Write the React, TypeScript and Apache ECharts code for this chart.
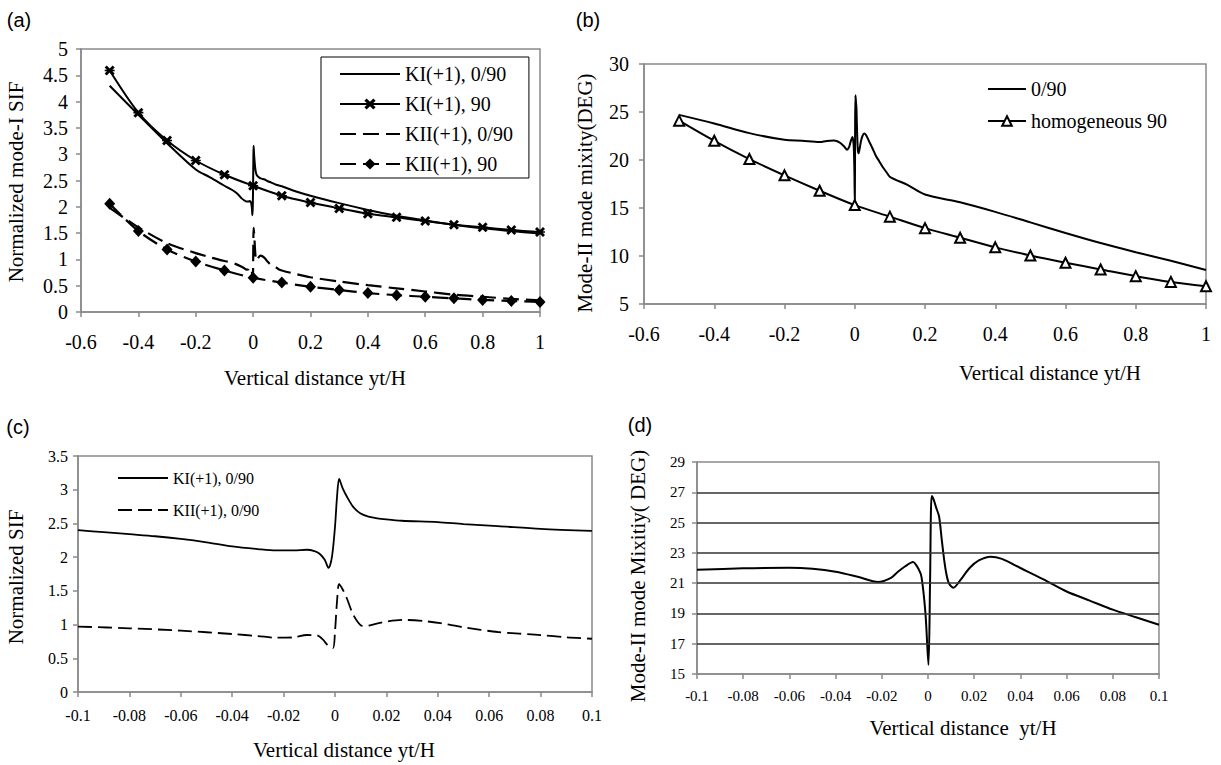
import React, { useEffect, useRef } from 'react';
import * as echarts from 'echarts';

const SERIF = "'Liberation Serif', 'Times New Roman', serif";
const SANS = "'Liberation Sans', Arial, sans-serif";
const GRAY = '#8a8a8a';

// ---------- Panel (a) ----------
const aX90 = [-0.5, -0.4, -0.3, -0.2, -0.1, 0, 0.1, 0.2, 0.3, 0.4, 0.5, 0.6, 0.7, 0.8, 0.9, 1.0];
const aKI90 = [4.59, 3.79, 3.26, 2.88, 2.61, 2.40, 2.21, 2.08, 1.97, 1.87, 1.80, 1.73, 1.66, 1.61, 1.56, 1.52];
const aKII90 = [2.06, 1.54, 1.19, 0.96, 0.79, 0.65, 0.56, 0.48, 0.42, 0.36, 0.32, 0.29, 0.26, 0.23, 0.21, 0.19];
const aLeftX = [-0.5, -0.4, -0.3, -0.2, -0.15];
const aKI090Left = [4.30, 3.75, 3.21, 2.71, 2.56];
const aKII090Left = [1.98, 1.61, 1.31, 1.12, 1.04];
const aRightX = [0.15, 0.2, 0.3, 0.4, 0.5, 0.6, 0.7, 0.8, 0.9, 1.0];
const aKI090Right = [2.29, 2.21, 2.07, 1.94, 1.83, 1.74, 1.66, 1.59, 1.54, 1.49];
const aKII090Right = [0.72, 0.66, 0.58, 0.51, 0.45, 0.39, 0.33, 0.29, 0.25, 0.22];

// ---------- Panel (c) (zoom of the 0/90 curves) ----------
const cKIX = [-0.1, -0.09, -0.08, -0.07, -0.06, -0.05, -0.04, -0.03, -0.023, -0.016, -0.011, -0.008, -0.006, -0.004, -0.0025, -0.0012, 0, 0.0008, 0.0016, 0.003, 0.0046, 0.007, 0.0098, 0.013, 0.0158, 0.02, 0.026, 0.04, 0.05, 0.0634, 0.08, 0.1];
const cKI = [2.40, 2.37, 2.34, 2.31, 2.27, 2.22, 2.16, 2.12, 2.10, 2.10, 2.11, 2.09, 2.05, 1.96, 1.84, 2.0, 2.45, 2.9, 3.16, 3.02, 2.90, 2.75, 2.65, 2.60, 2.58, 2.56, 2.54, 2.52, 2.49, 2.46, 2.42, 2.39];
const cKIIX = [-0.1, -0.08, -0.06, -0.04, -0.03, -0.023, -0.016, -0.011, -0.007, -0.0045, -0.003, -0.0008, 0, 0.0008, 0.0016, 0.003, 0.0046, 0.0068, 0.009, 0.0105, 0.013, 0.018, 0.026, 0.035, 0.041, 0.05, 0.0634, 0.08, 0.09, 0.1];
const cKII = [0.97, 0.945, 0.91, 0.86, 0.83, 0.805, 0.81, 0.845, 0.84, 0.77, 0.70, 0.65, 0.9, 1.35, 1.60, 1.52, 1.39, 1.17, 1.03, 0.98, 0.985, 1.03, 1.07, 1.05, 1.02, 0.96, 0.89, 0.845, 0.81, 0.79];

// ---------- Panel (b) ----------
const bLeftX = [-0.5, -0.4, -0.3, -0.2, -0.15];
const b090Left = [24.7, 23.8, 22.8, 22.1, 22.0];
const bRightX = [0.15, 0.2, 0.3, 0.4, 0.5, 0.6, 0.7, 0.8, 0.9, 1.0];
const b090Right = [17.4, 16.4, 15.6, 14.6, 13.5, 12.4, 11.35, 10.4, 9.5, 8.55];
const bHom90 = [24.1, 22.0, 20.1, 18.4, 16.8, 15.3, 14.1, 12.9, 11.9, 10.9, 10.05, 9.3, 8.6, 7.9, 7.3, 6.85];

// ---------- Panel (d) (zoom of the 0/90 mixity) ----------
const dX = [-0.1, -0.08, -0.06, -0.05, -0.04, -0.03, -0.0216, -0.016, -0.013, -0.01, -0.0065, -0.004, -0.0028, -0.0011, 0.0002, 0.0009, 0.0016, 0.0025, 0.0035, 0.0048, 0.006, 0.0075, 0.009, 0.011, 0.014, 0.018, 0.022, 0.027, 0.032, 0.04, 0.05, 0.06, 0.07, 0.08, 0.09, 0.1];
const dMix = [21.88, 21.98, 22.02, 21.95, 21.75, 21.4, 21.08, 21.35, 21.75, 22.1, 22.4, 21.9, 21.4, 19.0, 15.6, 21.2, 26.75, 26.5, 26.0, 25.4, 23.8, 22.0, 21.0, 20.7, 21.2, 22.0, 22.5, 22.75, 22.6, 22.0, 21.25, 20.45, 19.85, 19.25, 18.75, 18.25];
const dYTicks = [15, 17, 19, 21, 23, 25, 27, 29];

const zip = (xs: number[], ys: number[]) => xs.map((x, i) => [x, ys[i]]);

const grids = [
  { left: 81, top: 49, width: 459, height: 263 },
  { left: 644, top: 64, width: 562, height: 240 },
  { left: 78, top: 456, width: 514, height: 236 },
  { left: 697, top: 462, width: 462, height: 212 },
];

function axisBase(fontSize: number, margin: number) {
  return {
    type: 'value' as const,
    axisLine: { show: true, onZero: false, lineStyle: { color: GRAY, width: 1.5 } },
    axisTick: { show: true, inside: false, length: 5, lineStyle: { color: GRAY, width: 1.5 } },
    axisLabel: { color: '#000', fontFamily: SERIF, fontSize, margin, showMinLabel: true, showMaxLabel: true },
    splitLine: { show: false },
  };
}

function txt(text: string, x: number, y: number, size: number, rotate = false, family = SERIF) {
  return {
    type: 'text',
    x,
    y,
    rotation: rotate ? Math.PI / 2 : 0,
    style: {
      text,
      fill: '#000',
      fontFamily: family,
      fontSize: size,
      align: 'center',
      verticalAlign: 'middle',
      textAlign: 'center',
      textVerticalAlign: 'middle',
    },
  };
}

const noMark = (name: string) => ({ name, itemStyle: { opacity: 0 } });

const xSymbol = 'path://M2,0L5,3L8,0L10,2L7,5L10,8L8,10L5,7L2,10L0,8L3,5L0,2ZM0,4.2L10,4.2L10,5.8L0,5.8Z';

export default function App() {
  const ref = useRef<HTMLDivElement>(null);
  useEffect(() => {
    if (!ref.current) return;
    const chart = echarts.init(ref.current, null, { renderer: 'svg', width: 1221, height: 765 });
    const black = '#000';
    const option: any = {
      animation: false,
      backgroundColor: '#fff',
      grid: grids.map((g) => ({ ...g, show: true, borderColor: GRAY, borderWidth: 1.5, backgroundColor: 'transparent', containLabel: false })),
      xAxis: [
        { ...axisBase(20, 20), gridIndex: 0, min: -0.6, max: 1, interval: 0.2 },
        { ...axisBase(20, 20), gridIndex: 1, min: -0.6, max: 1, interval: 0.2 },
        { ...axisBase(16, 15), gridIndex: 2, min: -0.1, max: 0.1, interval: 0.02 },
        { ...axisBase(15, 14), gridIndex: 3, min: -0.1, max: 0.1, interval: 0.02 },
      ],
      yAxis: [
        { ...axisBase(20, 13), gridIndex: 0, min: 0, max: 5, interval: 0.5 },
        { ...axisBase(20, 15), gridIndex: 1, min: 5, max: 30, interval: 5 },
        { ...axisBase(16, 10), gridIndex: 2, min: 0, max: 3.5, interval: 0.5 },
        (() => {
          const b = axisBase(15, 12);
          return {
            ...b,
            gridIndex: 3,
            min: 15,
            max: 29,
            axisLabel: { ...b.axisLabel, customValues: dYTicks },
            axisTick: { ...b.axisTick, customValues: dYTicks },
          };
        })(),
      ],
      legend: [
        {
          data: [noMark('KI(+1), 0/90'), 'KI(+1), 90', noMark('KII(+1), 0/90'), 'KII(+1), 90'],
          left: 321,
          top: 57,
          orient: 'vertical',
          itemWidth: 60,
          itemHeight: 14,
          itemGap: 10,
          padding: [7, 16, 4, 18],
          borderColor: '#000',
          borderWidth: 1,
          backgroundColor: '#fff',
          selectedMode: false,
          textStyle: { fontFamily: SERIF, fontSize: 20, color: '#000' },
        },
        {
          data: [noMark('0/90'), 'homogeneous 90'],
          left: 987,
          top: 79,
          orient: 'vertical',
          itemWidth: 38,
          itemHeight: 12,
          itemGap: 12,
          padding: 0,
          selectedMode: false,
          textStyle: { fontFamily: SERIF, fontSize: 20, color: '#000' },
        },
        {
          data: [noMark('KI(+1), 0/90 '), noMark('KII(+1), 0/90 ')],
          left: 117,
          top: 470,
          orient: 'vertical',
          itemWidth: 50,
          itemHeight: 12,
          itemGap: 16,
          padding: 0,
          selectedMode: false,
          textStyle: { fontFamily: SERIF, fontSize: 16, color: '#000' },
        },
      ],
      series: [
        {
          name: 'KI(+1), 0/90', type: 'line', xAxisIndex: 0, yAxisIndex: 0, symbol: 'none', smooth: 0.3,
          lineStyle: { color: black, width: 2 }, itemStyle: { color: black },
          data: [...zip(aLeftX, aKI090Left), ...zip(cKIX, cKI), ...zip(aRightX, aKI090Right)],
        },
        {
          name: 'KI(+1), 90', type: 'line', xAxisIndex: 0, yAxisIndex: 0, symbol: xSymbol, symbolSize: 10, smooth: 0.3,
          lineStyle: { color: black, width: 2 }, itemStyle: { color: black },
          data: zip(aX90, aKI90),
        },
        {
          name: 'KII(+1), 0/90', type: 'line', xAxisIndex: 0, yAxisIndex: 0, symbol: 'none', smooth: 0.3,
          lineStyle: { color: black, width: 2.2, type: [16, 7] }, itemStyle: { color: black },
          data: [...zip(aLeftX, aKII090Left), ...zip(cKIIX, cKII), ...zip(aRightX, aKII090Right)],
        },
        {
          name: 'KII(+1), 90', type: 'line', xAxisIndex: 0, yAxisIndex: 0, symbol: 'diamond', symbolSize: [11, 12], smooth: 0.3,
          lineStyle: { color: black, width: 2.2, type: [16, 7] }, itemStyle: { color: black },
          data: zip(aX90, aKII90),
        },
        {
          name: '0/90', type: 'line', xAxisIndex: 1, yAxisIndex: 1, symbol: 'none', smooth: 0.3,
          lineStyle: { color: black, width: 2 }, itemStyle: { color: black },
          data: [...zip(bLeftX, b090Left), ...zip(dX, dMix), ...zip(bRightX, b090Right)],
        },
        {
          name: 'homogeneous 90', type: 'line', xAxisIndex: 1, yAxisIndex: 1, symbol: 'triangle', symbolSize: 10, smooth: 0.3,
          lineStyle: { color: black, width: 2 }, itemStyle: { color: '#fff', borderColor: black, borderWidth: 2 },
          data: zip(aX90, bHom90),
        },
        {
          name: 'KI(+1), 0/90 ', type: 'line', xAxisIndex: 2, yAxisIndex: 2, symbol: 'none', smooth: 0.3,
          lineStyle: { color: black, width: 1.8 }, itemStyle: { color: black },
          data: zip(cKIX, cKI),
        },
        {
          name: 'KII(+1), 0/90 ', type: 'line', xAxisIndex: 2, yAxisIndex: 2, symbol: 'none', smooth: 0.3,
          lineStyle: { color: black, width: 1.8, type: [14, 6] }, itemStyle: { color: black },
          data: zip(cKIIX, cKII),
        },
        {
          name: 'Mode-II mode mixity, 0/90', type: 'line', xAxisIndex: 3, yAxisIndex: 3, symbol: 'none', smooth: 0.3,
          lineStyle: { color: black, width: 2 }, itemStyle: { color: black },
          data: zip(dX, dMix),
          markLine: {
            silent: true,
            symbol: ['none', 'none'],
            label: { show: false },
            lineStyle: { color: '#333', width: 1.5, type: 'solid' },
            data: dYTicks.slice(1, -1).map((v) => ({ yAxis: v })),
          },
        },
      ],
      graphic: {
        elements: [
          txt('(a)', 19, 20, 20, false, SANS),
          txt('(b)', 588, 20, 20, false, SANS),
          txt('(c)', 18, 427, 20, false, SANS),
          txt('(d)', 640, 425, 20, false, SANS),
          txt('Normalized mode-I SIF', 16, 182, 21, true),
          txt('Mode-II mode mixity(DEG)', 585, 193, 21, true),
          txt('Normalized SIF', 16, 577, 21, true),
          txt('Mode-II mode Mixitiy( DEG)', 638, 576, 21, true),
          txt('Vertical distance yt/H', 315, 378, 21),
          txt('Vertical distance yt/H', 1050, 373, 21),
          txt('Vertical distance yt/H', 344, 750, 21),
          txt('Vertical distance  yt/H', 963, 728, 21),
        ],
      },
    };
    chart.setOption(option);
    return () => chart.dispose();
  }, []);
  return <div ref={ref} style={{ position: 'absolute', left: 0, top: 0, width: 1221, height: 765 }} />;
}
